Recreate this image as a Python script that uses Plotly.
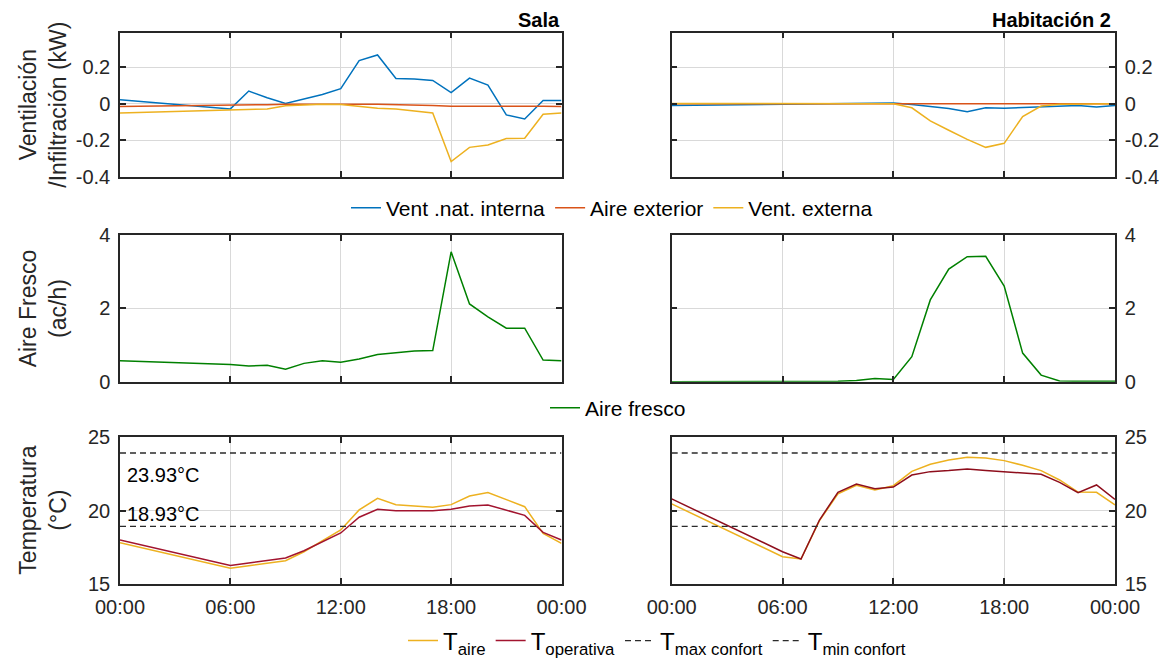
import plotly.graph_objects as go

# ---------------- data ----------------
hours = [0, 6, 7, 8, 9, 10, 11, 12, 13, 14, 15, 16, 17, 18, 19, 20, 21, 22, 23, 24]
tick_hours = [0, 6, 12, 18, 24]
tick_labels = ["00:00", "06:00", "12:00", "18:00", "00:00"]

# Sala
vent_int_sala = [0.022, -0.028, 0.070, 0.033, 0.002, 0.028, 0.051, 0.083, 0.237, 0.268,
                 0.139, 0.136, 0.128, 0.061, 0.141, 0.103, -0.061, -0.083, 0.018, 0.018]
aire_ext_sala = [-0.015, -0.010, -0.008, -0.005, -0.003, -0.002, -0.001, -0.001, -0.002, -0.003,
                 -0.004, -0.006, -0.010, -0.014, -0.013, -0.012, -0.012, -0.012, -0.013, -0.015]
vent_ext_sala = [-0.050, -0.033, -0.031, -0.028, -0.011, -0.005, -0.002, -0.004, -0.013, -0.024,
                 -0.028, -0.037, -0.050, -0.317, -0.239, -0.226, -0.191, -0.189, -0.057, -0.051]
fresh_sala = [0.57, 0.47, 0.43, 0.45, 0.34, 0.50, 0.57, 0.53, 0.62, 0.74,
              0.79, 0.84, 0.85, 3.54, 2.12, 1.77, 1.46, 1.46, 0.59, 0.57]
t_aire_sala = [17.82, 16.07, 16.25, 16.42, 16.59, 17.20, 17.93, 18.68, 20.05, 20.84,
               20.41, 20.32, 20.23, 20.41, 21.00, 21.23, 20.75, 20.27, 18.45, 17.77]
t_op_sala = [18.00, 16.27, 16.43, 16.60, 16.77, 17.27, 17.86, 18.48, 19.55, 20.09,
             20.00, 20.02, 20.00, 20.09, 20.32, 20.39, 20.05, 19.68, 18.52, 18.00]

# Habitación 2
vent_int_h2 = [-0.009, -0.003, -0.002, -0.002, -0.001, 0.000, 0.003, 0.004, -0.004, -0.015,
               -0.026, -0.044, -0.022, -0.024, -0.020, -0.018, -0.011, -0.009, -0.017, -0.009]
aire_ext_h2 = [0.000, 0.001, 0.001, 0.001, 0.001, 0.001, 0.001, 0.001, 0.000, 0.000,
               0.000, 0.000, 0.000, 0.000, 0.000, 0.000, 0.000, 0.000, 0.000, 0.000]
vent_ext_h2 = [0.002, 0.001, 0.001, 0.001, 0.001, 0.001, 0.001, 0.000, -0.022, -0.094,
               -0.145, -0.195, -0.239, -0.217, -0.070, -0.012, -0.002, 0.000, 0.000, 0.000]
fresh_h2 = [0.00, 0.00, 0.00, 0.00, 0.01, 0.03, 0.09, 0.06, 0.68, 2.23,
            3.07, 3.41, 3.42, 2.61, 0.78, 0.18, 0.02, 0.01, 0.01, 0.01]
t_aire_h2 = [20.46, 16.86, 16.70, 19.32, 21.14, 21.73, 21.41, 21.70, 22.68, 23.16,
             23.45, 23.64, 23.59, 23.41, 23.09, 22.73, 22.09, 21.27, 21.25, 20.39]
t_op_h2 = [20.80, 17.20, 16.70, 19.36, 21.25, 21.82, 21.50, 21.61, 22.43, 22.66,
           22.73, 22.84, 22.73, 22.66, 22.59, 22.48, 21.93, 21.23, 21.75, 20.77]

t_max_confort = 23.93
t_min_confort = 18.93
comfort_x = [0, 24]

# ---------------- layout helpers ----------------
W, H = 1165, 660
def dx(px):
    return px / W
def dy(px):
    return 1 - px / H

cols = [(120, 561.5), (671.7, 1115)]
rows = [(32.7, 176.7), (235, 381.7), (437.3, 584)]

BLUE = "#0072BD"
ORANGE = "#D95319"
YELLOW = "#EDB120"
GREEN = "#008000"
RED = "#A2142F"
RED2 = "#8E0E1C"
GRAY = "#2b2b2b"
FONT = "Liberation Sans, Arial, sans-serif"
TXT = "#262626"

fig = go.Figure()

def ax(r, c):
    k = r * 2 + c + 1
    return ("x" if k == 1 else f"x{k}"), ("y" if k == 1 else f"y{k}")

rooms = [
    dict(vi=vent_int_sala, ae=aire_ext_sala, ve=vent_ext_sala, fr=fresh_sala,
         ta=t_aire_sala, to=t_op_sala, red=RED),
    dict(vi=vent_int_h2, ae=aire_ext_h2, ve=vent_ext_h2, fr=fresh_h2,
         ta=t_aire_h2, to=t_op_h2, red=RED2),
]

for c, d in enumerate(rooms):
    show = (c == 0)
    xa, ya = ax(0, c)
    fig.add_trace(go.Scatter(x=hours, y=d["vi"], mode="lines", name="Vent .nat. interna",
                             line=dict(color=BLUE, width=1.5), xaxis=xa, yaxis=ya,
                             showlegend=show, legend="legend"))
    fig.add_trace(go.Scatter(x=hours, y=d["ae"], mode="lines", name="Aire exterior",
                             line=dict(color=ORANGE, width=1.5), xaxis=xa, yaxis=ya,
                             showlegend=show, legend="legend"))
    fig.add_trace(go.Scatter(x=hours, y=d["ve"], mode="lines", name="Vent. externa",
                             line=dict(color=YELLOW, width=1.5), xaxis=xa, yaxis=ya,
                             showlegend=show, legend="legend"))
    xa, ya = ax(1, c)
    fig.add_trace(go.Scatter(x=hours, y=d["fr"], mode="lines", name="Aire fresco",
                             line=dict(color=GREEN, width=1.5), xaxis=xa, yaxis=ya,
                             showlegend=show, legend="legend2"))
    xa, ya = ax(2, c)
    fig.add_trace(go.Scatter(x=hours, y=d["ta"], mode="lines", name="T<sub>aire</sub>",
                             line=dict(color=YELLOW, width=1.5), xaxis=xa, yaxis=ya,
                             showlegend=show, legend="legend3"))
    fig.add_trace(go.Scatter(x=hours, y=d["to"], mode="lines", name="T<sub>operativa</sub>",
                             line=dict(color=d["red"], width=1.5), xaxis=xa, yaxis=ya,
                             showlegend=show, legend="legend3"))
    fig.add_trace(go.Scatter(x=comfort_x, y=[t_max_confort, t_max_confort], mode="lines",
                             name="T<sub>max confort</sub>",
                             line=dict(color=GRAY, width=1.3, dash="6px,4px"), xaxis=xa, yaxis=ya,
                             showlegend=show, legend="legend3"))
    fig.add_trace(go.Scatter(x=comfort_x, y=[t_min_confort, t_min_confort], mode="lines",
                             name="T<sub>min confort</sub>",
                             line=dict(color=GRAY, width=1.3, dash="6px,4px"), xaxis=xa, yaxis=ya,
                             showlegend=show, legend="legend3"))

yspecs = [
    dict(range=[-0.4, 0.39], tickvals=[-0.4, -0.2, 0, 0.2], ticktext=["-0.4", "-0.2", "0", "0.2"]),
    dict(range=[0, 4], tickvals=[0, 2, 4], ticktext=["0", "2", "4"]),
    dict(range=[15, 25], tickvals=[15, 20, 25], ticktext=["15", "20", "25"]),
]

common = dict(showline=True, linecolor=TXT, linewidth=1.5, mirror="ticks", ticks="inside",
              ticklen=6, tickwidth=1.5, tickcolor=TXT, showgrid=True, gridcolor="#d9d9d9",
              gridwidth=1, zeroline=False, automargin=False,
              tickfont=dict(family=FONT, size=20, color=TXT))

layout = {}
for r in range(3):
    for c in range(2):
        k = r * 2 + c + 1
        xname = "xaxis" if k == 1 else f"xaxis{k}"
        yname = "yaxis" if k == 1 else f"yaxis{k}"
        xa, ya = ax(r, c)
        layout[xname] = dict(common, domain=[dx(cols[c][0]), dx(cols[c][1])], anchor=ya,
                             range=[0, 24], tickvals=tick_hours, ticktext=tick_labels,
                             showticklabels=(r == 2), ticklabelstandoff=4)
        layout[yname] = dict(common, domain=[dy(rows[r][1]), dy(rows[r][0])], anchor=xa,
                             side=("left" if c == 0 else "right"), ticklabelstandoff=4,
                             **yspecs[r])

fig.update_layout(**layout)

annotations = []
# Titles
annotations.append(dict(text="<b>Sala</b>", x=dx(561.5), y=dy(20), xref="paper", yref="paper",
                        xanchor="right", yanchor="middle", showarrow=False,
                        font=dict(family=FONT, size=20, color="black")))
annotations.append(dict(text="<b>Habitación 2</b>", x=dx(1113), y=dy(20), xref="paper", yref="paper",
                        xanchor="right", yanchor="middle", showarrow=False,
                        font=dict(family=FONT, size=20, color="black")))
# Y axis titles
ytitles = ["Ventilación<br>/Infiltración (kW)", "Aire Fresco<br>(ac/h)", "Temperatura<br>(°C)"]
for r, t in enumerate(ytitles):
    annotations.append(dict(text=t, x=dx(43), y=dy((rows[r][0] + rows[r][1]) / 2),
                            xref="paper", yref="paper", xanchor="center", yanchor="middle",
                            textangle=-90, showarrow=False,
                            font=dict(family=FONT, size=23, color=TXT)))
# Comfort labels
annotations.append(dict(text=f"{t_max_confort:.2f}°C", x=dx(125), y=dy(475), xref="paper", yref="paper",
                        xanchor="left", yanchor="middle", showarrow=False,
                        font=dict(family=FONT, size=20, color="black")))
annotations.append(dict(text=f"{t_min_confort:.2f}°C", x=dx(125), y=dy(514), xref="paper", yref="paper",
                        xanchor="left", yanchor="middle", showarrow=False,
                        font=dict(family=FONT, size=20, color="black")))

legend_common = dict(orientation="h", xanchor="center", yanchor="middle",
                     bgcolor="rgba(0,0,0,0)", font=dict(family=FONT, size=21, color="black"),
                     itemclick=False, itemdoubleclick=False)

fig.update_layout(
    width=W, height=H, margin=dict(l=0, r=0, t=0, b=0, autoexpand=False),
    paper_bgcolor="white", plot_bgcolor="white",
    annotations=annotations,
    showlegend=True,
    legend=dict(legend_common, x=dx(612), y=dy(208)),
    legend2=dict(legend_common, x=dx(618), y=dy(408)),
    legend3=dict(legend_common, x=dx(657), y=dy(641),
                 font=dict(family=FONT, size=24, color="black")),
)

fig.write_html("out.html")
